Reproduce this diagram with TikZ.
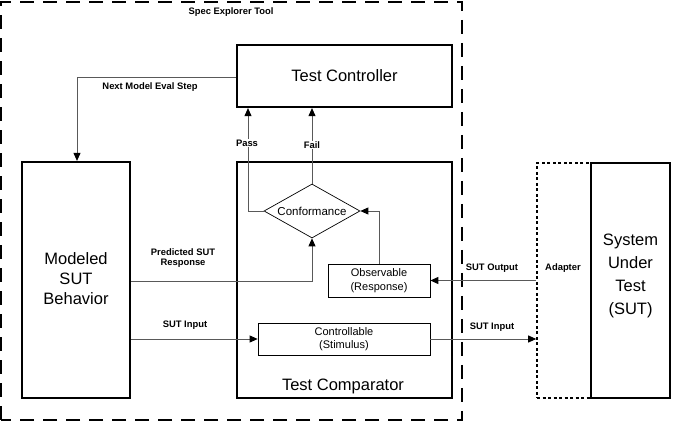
\documentclass[tikz,border=0pt]{standalone}
\usepackage{fontspec}
\setmainfont{Liberation Sans}
\usetikzlibrary{shapes.geometric,arrows.meta}
\begin{document}
\begin{tikzpicture}[x=1pt,y=-1pt,
  thickbox/.style={draw,line width=2.2pt,inner sep=0pt},
  thinbox/.style={draw,line width=0.7pt,inner sep=0pt,fill=white},
  conn/.style={draw=black!65,line width=0.9pt,-{Triangle[length=8pt,width=7pt,color=black]}},
  plain/.style={draw=black!65,line width=0.9pt},
  lbl/.style={font=\fontsize{9.4}{10.5}\selectfont\bfseries,align=center,inner sep=1pt},
  big/.style={font=\fontsize{16.5}{20}\selectfont,align=center},
  mid/.style={font=\fontsize{11.5}{13}\selectfont,align=center}]
\useasboundingbox (0,0) rectangle (673,422);
% outer dashed frame
\draw[line width=1.3pt,dash pattern=on 14pt off 9pt] (1,420) -- (1,2) -- (462,2) -- (462,420) -- cycle;
\node[lbl] (tool) at (231,12) {Spec Explorer Tool};
% main boxes
\node[thickbox,minimum width=215pt,minimum height=62pt,big] (ctrl) at (344.5,76) {Test Controller};
\node[thickbox,minimum width=108pt,minimum height=236pt] (model) at (76,280) {};
\node[big] (modeltxt) at (76,279) {Modeled\\SUT\\Behavior};
\node[thickbox,minimum width=215pt,minimum height=236pt] (comp) at (344.5,280) {};
\node[big] (comptxt) at (343,386) {Test Comparator};
% diamond
\node[draw,line width=0.7pt,diamond,minimum width=96pt,minimum height=54pt,inner sep=0pt,mid,aspect=1.8] (conf) at (312,211) {Conformance};
\node[thinbox,minimum width=102pt,minimum height=33pt,mid,font=\fontsize{11}{13.5}\selectfont] (obs) at (379,280.5) {Observable\\(Response)};
\node[thinbox,minimum width=172pt,minimum height=32pt,mid,font=\fontsize{11}{13.5}\selectfont] (ctl) at (344,339) {Controllable\\(Stimulus)};
% adapter and SUT
\node[draw,line width=1.6pt,dash pattern=on 3pt off 2.5pt,minimum width=54pt,minimum height=235pt,inner sep=0pt] (adapt) at (564,280.5) {};
\node[thickbox,line width=1.8pt,minimum width=79pt,minimum height=235pt,font=\fontsize{16.5}{23}\selectfont,align=center] (sut) at (630.5,280.5) {};
\node[font=\fontsize{16.5}{23}\selectfont,align=center] (suttxt) at (630.5,276) {System\\Under\\Test\\(SUT)};
\node[lbl] (adlbl) at (563,268) {Adapter};
% coordinates
\coordinate (passc) at (248,211);
\coordinate (nmc) at (77,77);
\coordinate (predc) at (312,281);
\coordinate (obsc) at (379,211);
% connectors
\draw[conn] (conf.west) -- (passc) -- (passc |- ctrl.south);
\draw[conn] (conf.north) -- (conf.north |- ctrl.south);
\node[lbl,fill=white] (pass) at (247,143) {Pass};
\node[lbl,fill=white] (fail) at (312,145) {Fail};
\draw[conn] (ctrl.west |- nmc) -- (nmc) -- (nmc |- model.north);
\node[lbl] (nml) at (150,87) {Next Model Eval Step};
\draw[conn] (model.east |- predc) -- (predc) -- (conf.south);
\node[lbl] (predl) at (183,258) {Predicted SUT\\Response};
\draw[conn] (obs.north -| obsc) -- (obsc) -- (conf.east);
\draw[conn] (adapt.west |- obs.east) -- (obs.east);
\node[lbl] (outl) at (492,268) {SUT Output};
\draw[conn] (model.east |- ctl.west) -- (ctl.west);
\node[lbl] (inl1) at (185,325) {SUT Input};
\draw[conn] (ctl.east) -- (adapt.west |- ctl.east);
\node[lbl] (inl2) at (492,327) {SUT Input};
\end{tikzpicture}
\end{document}
